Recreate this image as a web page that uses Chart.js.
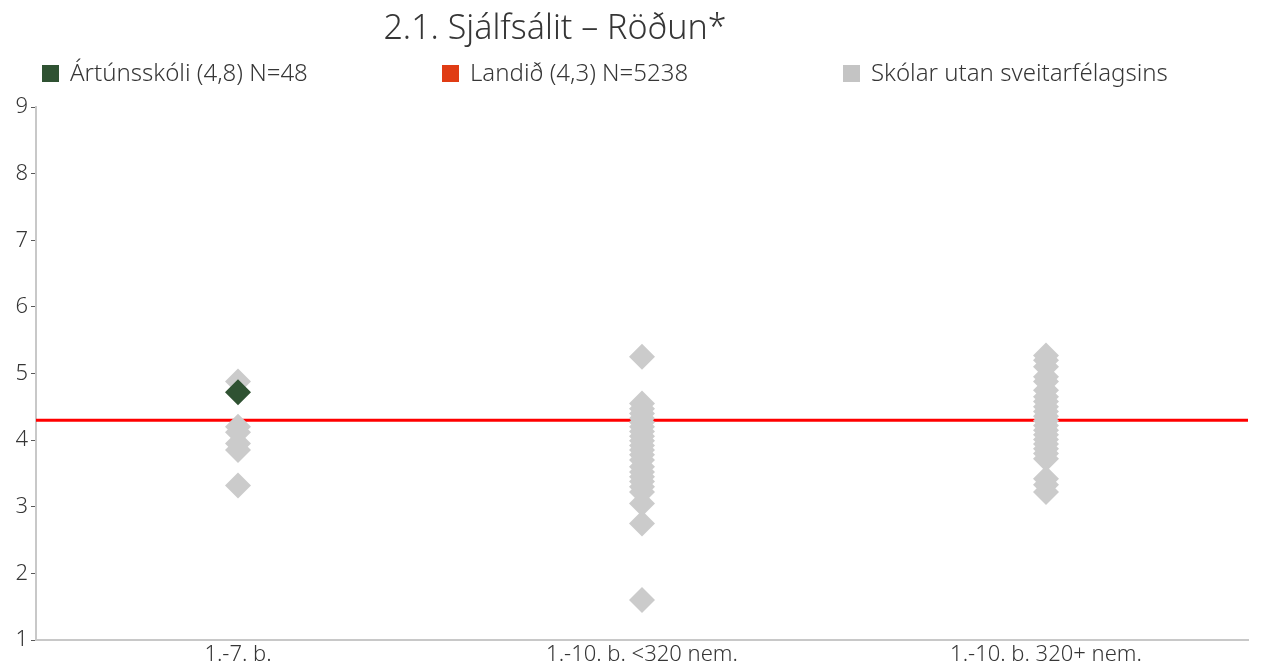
<!DOCTYPE html>
<html>
<head>
<meta charset="utf-8">
<script src="https://cdn.jsdelivr.net/npm/chart.js@4/dist/chart.umd.min.js"></script>
<style>
  body { margin: 0; background: #fff; font-family: "Noto Sans", sans-serif; color: #363636; }
  #wrap { position: relative; width: 1261px; height: 671px; }
  #title { position: absolute; top: 3px; left: 0; width: 1110px; text-align: center; font-size: 34px; font-weight: 300; }
  .leg { position: absolute; top: 55px; font-size: 24px; font-weight: 300; white-space: nowrap; }
  .leg span { display: inline-block; width: 17px; height: 17px; vertical-align: -1px; margin-right: 11px; }
</style>
</head>
<body>
<div id="wrap">
  <canvas id="radarCanvas" width="1261" height="671"></canvas>
  <div id="title">2.1. Sjálfsálit – Röðun*</div>
  <div class="leg" style="left:42px"><span style="background:#2f5232"></span>Ártúnsskóli (4,8) N=48</div>
  <div class="leg" style="left:442px"><span style="background:#e03c14"></span>Landið (4,3) N=5238</div>
  <div class="leg" style="left:843px"><span style="background:#c4c4c4"></span>Skólar utan sveitarfélagsins</div>
</div>
<script>
const categories = ["1.-7. b.", "1.-10. b. <320 nem.", "1.-10. b. 320+ nem."];

// other schools, one list per size group
const otherSmall = [4.88, 4.2, 4.12, 3.95, 3.85, 3.32];
const otherMid = [5.25, 4.55, 4.47, 4.4, 4.33, 4.27, 4.2, 4.13, 4.06, 3.99, 3.92, 3.85,
  3.78, 3.7, 3.6, 3.52, 3.45, 3.38, 3.3, 3.22, 3.05, 2.75, 1.6];
const otherLarge = [5.27, 5.2, 5.1, 4.95, 4.88, 4.75, 4.65, 4.58, 4.5, 4.43, 4.36, 4.29,
  4.22, 4.15, 4.08, 4.01, 3.94, 3.87, 3.8, 3.72, 3.42, 3.33, 3.22];

// this school and the national mean
const schoolValue = [4.72];
const nationalMean = 4.3;

const yTicks = [1, 2, 3, 4, 5, 6, 7, 8, 9];

const grayPoints = [];
[otherSmall, otherMid, otherLarge].forEach((list, i) => {
  list.forEach(v => grayPoints.push({ x: categories[i], y: v }));
});

const nationalLine = {
  id: "nationalLine",
  beforeDatasetsDraw(chart) {
    const { ctx, chartArea, scales } = chart;
    const y = scales.y.getPixelForValue(nationalMean);
    ctx.save();
    ctx.strokeStyle = "#ff0000";
    ctx.lineWidth = 3;
    ctx.beginPath();
    ctx.moveTo(chartArea.left, y);
    ctx.lineTo(chartArea.right, y);
    ctx.stroke();
    ctx.restore();
  }
};

const radarChart = new Chart(document.getElementById("radarCanvas"), {
  type: "scatter",
  data: {
    datasets: [{
      label: "Ártúnsskóli",
      data: schoolValue.map(v => ({ x: categories[0], y: v })),
      backgroundColor: "#2f5232",
      borderWidth: 0,
      pointStyle: "rectRot",
      pointRadius: 13,
      pointHoverRadius: 13,
      order: 0
    }, {
      label: "Skólar utan sveitarfélagsins",
      data: grayPoints,
      backgroundColor: "#cbcbcb",
      borderWidth: 0,
      pointStyle: "rectRot",
      pointRadius: 13,
      pointHoverRadius: 13,
      order: 1
    }]
  },
  plugins: [nationalLine],
  options: {
    responsive: false,
    animation: false,
    layout: { padding: { top: 107, right: 8, left: 0, bottom: 0 } },
    plugins: { legend: { display: false }, tooltip: { enabled: false } },
    scales: {
      x: {
        type: "category",
        labels: categories,
        offset: true,
        grid: { display: false, drawTicks: false },
        border: { color: "#c8c8c8", width: 2 },
        ticks: { color: "#363636", padding: 2, font: { family: "Noto Sans", size: 22, weight: 300 } },
        afterFit(scale) { scale.height = 31; }
      },
      y: {
        min: 1,
        max: 9,
        afterBuildTicks(scale) { scale.ticks = yTicks.map(v => ({ value: v })); },
        grid: { drawOnChartArea: false, tickLength: 5, tickColor: "#595959" },
        border: { color: "#c8c8c8", width: 2 },
        ticks: { color: "#363636", padding: 3, font: { family: "Noto Sans", size: 22, weight: 300 } },
        afterFit(scale) { scale.width = 36; }
      }
    }
  }
});
</script>
</body>
</html>
